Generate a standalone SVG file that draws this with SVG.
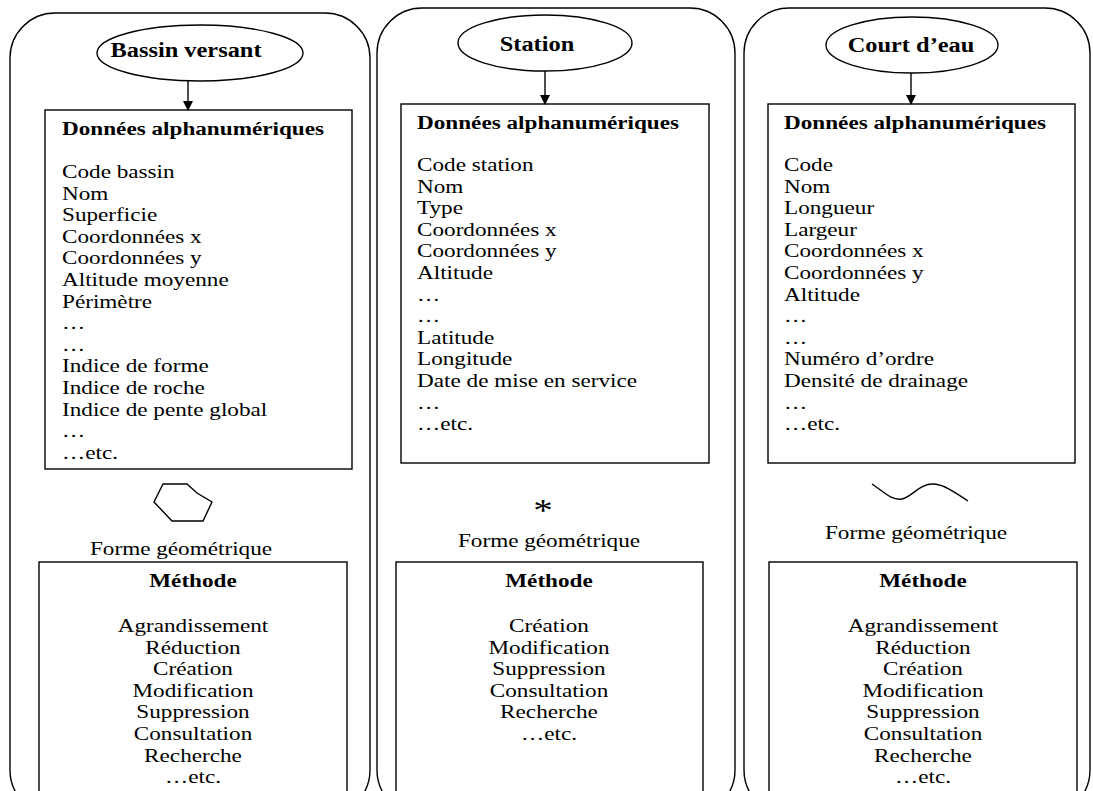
<svg xmlns="http://www.w3.org/2000/svg" width="1093" height="791" viewBox="0 0 1093 791">
<style>
.frame{fill:none;stroke:#000;stroke-width:1.4}
.box{fill:#fff;stroke:#000;stroke-width:1.4}
.t{font-family:"Liberation Serif","Times New Roman",serif;font-size:19px;fill:#000}
.b{font-weight:bold}
.c{text-anchor:middle}
.conn{stroke:#000;stroke-width:1.4;fill:none}
</style>
<defs>
<marker id="ah" markerWidth="10" markerHeight="10" refX="9" refY="5" orient="auto" markerUnits="userSpaceOnUse">
<path d="M0,0 L10,5 L0,10 Z" fill="#000"/>
</marker>
</defs>
<rect width="1093" height="791" fill="#fff"/>

<g id="col-bassin">
<rect class="frame" x="10" y="13" width="360" height="802" rx="45" ry="45"/>
<g id="node-bassin">
<ellipse class="box" cx="200" cy="53" rx="103" ry="28"/>
<text class="t b c" transform="translate(186,57) scale(1.22,1)" style="font-size:20px">Bassin versant</text>
</g>
<g id="data-bassin">
<rect class="box" x="45" y="110" width="307" height="359"/>
<g transform="translate(62,0) scale(1.22,1)">
<text class="t b" x="0" y="135">Données alphanumériques</text>
<text class="t" x="0" y="178">Code bassin</text>
<text class="t" x="0" y="199.6">Nom</text>
<text class="t" x="0" y="221.2">Superficie</text>
<text class="t" x="0" y="242.8">Coordonnées x</text>
<text class="t" x="0" y="264.4">Coordonnées y</text>
<text class="t" x="0" y="286">Altitude moyenne</text>
<text class="t" x="0" y="307.6">Périmètre</text>
<text class="t" x="0" y="329.2">…</text>
<text class="t" x="0" y="350.8">…</text>
<text class="t" x="0" y="372.4">Indice de forme</text>
<text class="t" x="0" y="394">Indice de roche</text>
<text class="t" x="0" y="415.6">Indice de pente global</text>
<text class="t" x="0" y="437.2">…</text>
<text class="t" x="0" y="458.8">…etc.</text>
</g>
</g>
<g id="geom-bassin">
<polygon class="frame" points="154,502 163,484 187,484 197,493 212,502 203,521 172,521"/>
<text class="t c" transform="translate(181,555) scale(1.22,1)">Forme géométrique</text>
</g>
<g id="method-bassin">
<rect class="box" x="39" y="562" width="308" height="260"/>
<g transform="translate(193,0) scale(1.22,1)">
<text class="t b c" x="0" y="587">Méthode</text>
<text class="t c" x="0" y="632">Agrandissement</text>
<text class="t c" x="0" y="653.6">Réduction</text>
<text class="t c" x="0" y="675.2">Création</text>
<text class="t c" x="0" y="696.8">Modification</text>
<text class="t c" x="0" y="718.4">Suppression</text>
<text class="t c" x="0" y="740">Consultation</text>
<text class="t c" x="0" y="761.6">Recherche</text>
<text class="t c" x="0" y="783.2">…etc.</text>
</g>
</g>
</g>

<g id="col-station">
<rect class="frame" x="377" y="8" width="358" height="807" rx="45" ry="45"/>
<g id="node-station">
<ellipse class="box" cx="545" cy="43" rx="87" ry="28"/>
<text class="t b c" transform="translate(537,51) scale(1.22,1)" style="font-size:20px">Station</text>
</g>
<g id="data-station">
<rect class="box" x="401" y="104" width="308" height="359"/>
<g transform="translate(417,0) scale(1.22,1)">
<text class="t b" x="0" y="129">Données alphanumériques</text>
<text class="t" x="0" y="171">Code station</text>
<text class="t" x="0" y="192.6">Nom</text>
<text class="t" x="0" y="214.2">Type</text>
<text class="t" x="0" y="235.8">Coordonnées x</text>
<text class="t" x="0" y="257.4">Coordonnées y</text>
<text class="t" x="0" y="279">Altitude</text>
<text class="t" x="0" y="300.6">…</text>
<text class="t" x="0" y="322.2">…</text>
<text class="t" x="0" y="343.8">Latitude</text>
<text class="t" x="0" y="365.4">Longitude</text>
<text class="t" x="0" y="387">Date de mise en service</text>
<text class="t" x="0" y="408.6">…</text>
<text class="t" x="0" y="430.2">…etc.</text>
</g>
</g>
<g id="geom-station">
<text class="t c" style="font-size:32px" transform="translate(543,521) scale(1.22,1)">*</text>
<text class="t c" transform="translate(549,547) scale(1.22,1)">Forme géométrique</text>
</g>
<g id="method-station">
<rect class="box" x="396" y="562" width="307" height="260"/>
<g transform="translate(549,0) scale(1.22,1)">
<text class="t b c" x="0" y="587">Méthode</text>
<text class="t c" x="0" y="632">Création</text>
<text class="t c" x="0" y="653.6">Modification</text>
<text class="t c" x="0" y="675.2">Suppression</text>
<text class="t c" x="0" y="696.8">Consultation</text>
<text class="t c" x="0" y="718.4">Recherche</text>
<text class="t c" x="0" y="740">…etc.</text>
</g>
</g>
</g>

<g id="col-cours">
<rect class="frame" x="744" y="8" width="346" height="807" rx="45" ry="45"/>
<g id="node-cours">
<ellipse class="box" cx="912" cy="45" rx="86" ry="28"/>
<text class="t b c" transform="translate(911,52) scale(1.22,1)" style="font-size:20px">Court d’eau</text>
</g>
<g id="data-cours">
<rect class="box" x="768" y="104" width="307" height="359"/>
<g transform="translate(784,0) scale(1.22,1)">
<text class="t b" x="0" y="129">Données alphanumériques</text>
<text class="t" x="0" y="171">Code</text>
<text class="t" x="0" y="192.6">Nom</text>
<text class="t" x="0" y="214.2">Longueur</text>
<text class="t" x="0" y="235.8">Largeur</text>
<text class="t" x="0" y="257.4">Coordonnées x</text>
<text class="t" x="0" y="279">Coordonnées y</text>
<text class="t" x="0" y="300.6">Altitude</text>
<text class="t" x="0" y="322.2">…</text>
<text class="t" x="0" y="343.8">…</text>
<text class="t" x="0" y="365.4">Numéro d’ordre</text>
<text class="t" x="0" y="387">Densité de drainage</text>
<text class="t" x="0" y="408.6">…</text>
<text class="t" x="0" y="430.2">…etc.</text>
</g>
</g>
<g id="geom-cours">
<path class="frame" d="M872,484 C884,492 892,501 902,499 C912,497 920,483 934,484 C946,485 957,494 968,501"/>
<text class="t c" transform="translate(916,539) scale(1.22,1)">Forme géométrique</text>
</g>
<g id="method-cours">
<rect class="box" x="769" y="562" width="308" height="260"/>
<g transform="translate(923,0) scale(1.22,1)">
<text class="t b c" x="0" y="587">Méthode</text>
<text class="t c" x="0" y="632">Agrandissement</text>
<text class="t c" x="0" y="653.6">Réduction</text>
<text class="t c" x="0" y="675.2">Création</text>
<text class="t c" x="0" y="696.8">Modification</text>
<text class="t c" x="0" y="718.4">Suppression</text>
<text class="t c" x="0" y="740">Consultation</text>
<text class="t c" x="0" y="761.6">Recherche</text>
<text class="t c" x="0" y="783.2">…etc.</text>
</g>
</g>
</g>

<g id="connectors">
<line class="conn" x1="188" y1="81" x2="188" y2="110" marker-end="url(#ah)"/>
<line class="conn" x1="545" y1="71" x2="545" y2="104" marker-end="url(#ah)"/>
<line class="conn" x1="911" y1="73" x2="911" y2="104" marker-end="url(#ah)"/>
</g>
</svg>
